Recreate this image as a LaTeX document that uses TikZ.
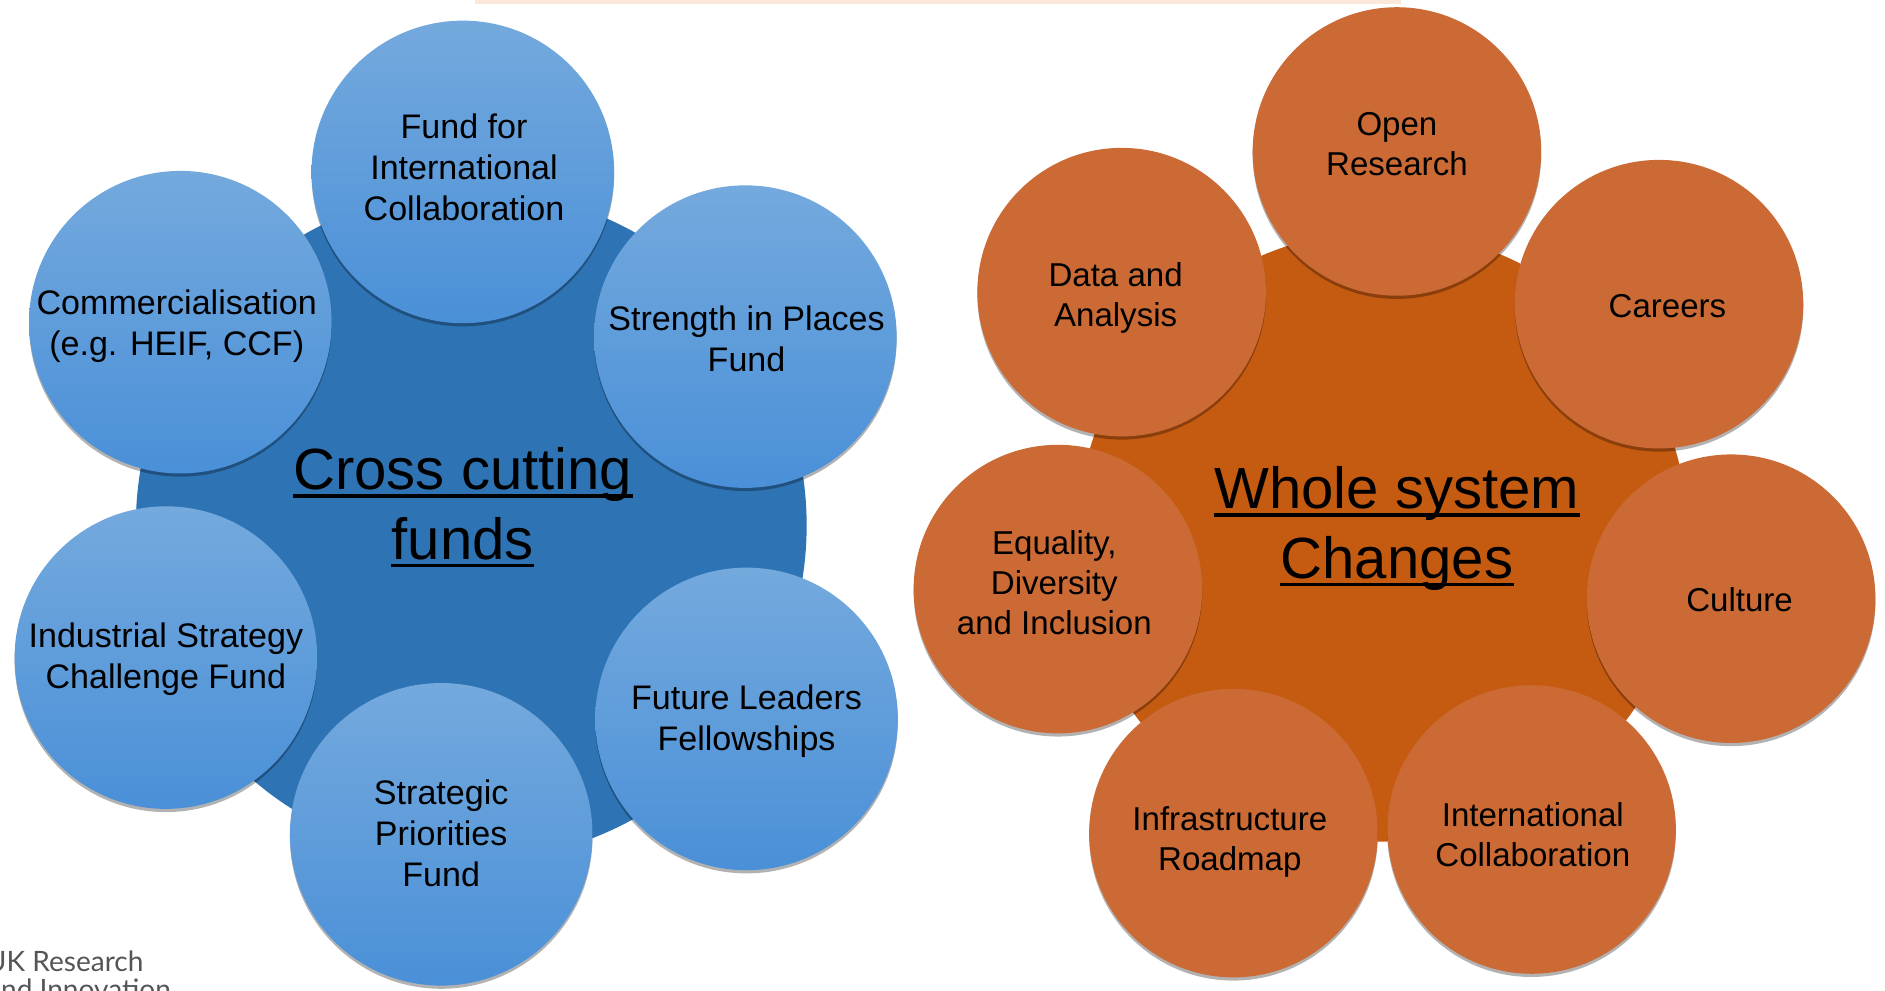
\documentclass[tikz,border=0pt]{standalone}
\usepackage{fontspec}
\setmainfont{Liberation Sans}
\newfontfamily\ukrifont{Lato}
\usetikzlibrary{shadows}
\definecolor{bluebg}{RGB}{46,116,181}
\definecolor{bluetop}{RGB}{116,169,221}
\definecolor{bluebot}{RGB}{74,144,216}
\definecolor{orangebg}{RGB}{197,90,17}
\definecolor{orangesm}{RGB}{203,106,53}
\definecolor{peach}{RGB}{252,232,218}
\definecolor{ukgrey}{RGB}{85,85,85}
\tikzset{
  bluesmall/.style={circle, minimum size=151pt, inner sep=0pt,
    top color=bluetop, bottom color=bluebot, draw=none,
    drop shadow={shadow xshift=0pt, shadow yshift=-1.6pt, opacity=0.3, fill=black}},
  orangesmall/.style={circle, minimum size=144pt, inner sep=0pt,
    fill=orangesm, draw=none,
    drop shadow={shadow xshift=0pt, shadow yshift=-1.6pt, opacity=0.3, fill=black}},
  bluetext/.style={align=center, inner sep=0pt, font=\fontsize{17}{20.4}\selectfont, text=black},
  orangetext/.style={align=center, inner sep=0pt, font=\fontsize{16.5}{20}\selectfont, text=black},
  bigcircle/.style={circle, inner sep=0pt, draw=none},
  titleline/.style={anchor=base, inner sep=0pt, font=\fontsize{29}{35}\selectfont, text=black},
  uline/.style={line width=1.8pt, black},
  ukline/.style={anchor=base west, inner sep=0pt, text=ukgrey, font=\ukrifont\fontsize{14}{16}\selectfont}
}
\begin{document}
\begin{tikzpicture}[x=0.6pt, y=-0.6pt]
\useasboundingbox (0,0) rectangle (1568,824);
\clip (0,0) rectangle (1568,824);
\fill[white] (0,0) rectangle (1568,824);
\fill[peach] (395,0) rectangle (1165,3.3);

% left cluster
\node[bigcircle, fill=bluebg, minimum size=334.8pt] (cbg) at (392,437) {};
\node[bluesmall] (fic) at (385,143) {};
\node[bluesmall] (sip) at (620,280) {};
\node[bluesmall] (flf) at (621,598) {};
\node[bluesmall] (com) at (150,268) {};
\node[bluesmall] (isc) at (138,547) {};
\node[bluesmall] (spf) at (367,694) {};
\node[bluetext] (ficT) at (386,139) {Fund for\\International\\Collaboration};
\node[bluetext] (sipT) at (621,282) {Strength in Places\\Fund};
\node[bluetext] (flfT) at (621,600) {Future Leaders\\Fellowships};
\node[bluetext] (comT) at (147,271) {Commercialisation\\(e.g. HEIF, CCF)};
\node[bluetext] (iscT) at (138,548) {Industrial Strategy\\Challenge Fund};
\node[bluetext] (spfT) at (367,693) {Strategic\\Priorities\\Fund};
\node[titleline] (ct1) at (385,407) {Cross cutting};
\node[titleline] (ct2) at (385,465) {funds};
\draw[uline] ([yshift=-3.2pt]ct1.base west) -- ([yshift=-3.2pt]ct1.base east);
\draw[uline] ([yshift=-3.2pt]ct2.base west) -- ([yshift=-3.2pt]ct2.base east);

% right cluster
\node[bigcircle, fill=orangebg, minimum size=304.8pt] (obg) at (1150,446) {};
\node[orangesmall] (opr) at (1162,126) {};
\node[orangesmall] (car) at (1380,253) {};
\node[orangesmall] (cul) at (1440,498) {};
\node[orangesmall] (dat) at (933,243) {};
\node[orangesmall] (edi) at (880,490) {};
\node[orangesmall] (inf) at (1026,693) {};
\node[orangesmall] (int) at (1274,690) {};
\node[orangetext] (oprT) at (1162,120) {Open\\Research};
\node[orangetext] (carT) at (1387,255) {Careers};
\node[orangetext] (culT) at (1447,499) {Culture};
\node[orangetext] (datT) at (928,248) {Data and\\Analysis};
\node[orangetext] (ediT) at (877,485) {Equality,\\Diversity\\and Inclusion};
\node[orangetext] (infT) at (1023,700) {Infrastructure\\Roadmap};
\node[orangetext] (intT) at (1275,694) {International\\Collaboration};
\node[titleline] (ot1) at (1162,423) {Whole system};
\node[titleline] (ot2) at (1162,481) {Changes};
\draw[uline] ([yshift=-3.2pt]ot1.base west) -- ([yshift=-3.2pt]ot1.base east);
\draw[uline] ([yshift=-3.2pt]ot2.base west) -- ([yshift=-3.2pt]ot2.base east);

% logo text
\node[ukline] (ukri1) at (-12,808) {UK Research};
\node[ukline] (ukri2) at (-11,831) {and Innovation};
\end{tikzpicture}
\end{document}
